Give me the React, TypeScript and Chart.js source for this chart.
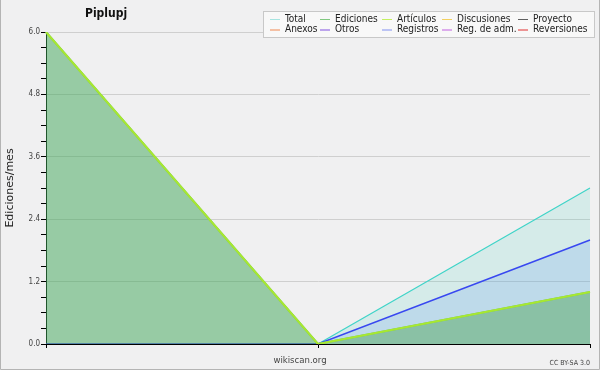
import React, { useEffect, useRef } from "react";
import { Chart, registerables } from "chart.js";

Chart.register(...registerables);

const TITLE = "Piplupj";
const Y_TITLE = "Ediciones/mes";
const X_TITLE = "wikiscan.org";
const CREDIT = "CC BY-SA 3.0";

const LABELS = ["", "", ""];
const TOTAL = [6, 0, 3];
const EDICIONES = [6, 0, 1];
const ARTICULOS = [6, 0, 1];
const REGISTROS = [0, 0, 2];

const Y_MIN = 0;
const Y_MAX = 6;
const Y_STEP = 0.3;
const Y_LABEL_STEP = 1.2;

const LEGEND_ROW1 = ["Total", "Ediciones", "Artículos", "Discusiones", "Proyecto"];
const LEGEND_ROW1_COLORS = ["#a6e4e0", "#80c880", "#c4f060", "#f2d060", "#606060"];
const LEGEND_ROW2 = ["Anexos", "Otros", "Registros", "Reg. de adm.", "Reversiones"];
const LEGEND_ROW2_COLORS = ["#f08850", "#8050e0", "#8090f0", "#c060e0", "#e03030"];

const FONT = "'DejaVu Sans', sans-serif";
const FONT_C = "'DejaVu Sans Condensed', 'DejaVu Sans', sans-serif";

const isMajor = (v: number) => Math.abs(v / Y_LABEL_STEP - Math.round(v / Y_LABEL_STEP)) < 1e-6;

const decor = {
  id: "decor",
  beforeDraw(chart: any) {
    const ctx = chart.ctx;
    ctx.save();
    ctx.fillStyle = "#f0f0f1";
    ctx.fillRect(0, 0, chart.width, chart.height);
    ctx.restore();
  },
  afterDraw(chart: any) {
    const ctx = chart.ctx;
    const area = chart.chartArea;
    ctx.save();
    // title
    ctx.fillStyle = "#111";
    ctx.font = `bold 12px ${FONT_C}`;
    ctx.textBaseline = "middle";
    ctx.textAlign = "left";
    ctx.fillText(TITLE, 85, 14);
    // y title
    ctx.save();
    ctx.translate(10, (area.top + area.bottom) / 2);
    ctx.rotate(-Math.PI / 2);
    ctx.textAlign = "center";
    ctx.font = `11px ${FONT}`;
    ctx.fillStyle = "#222";
    ctx.fillText(Y_TITLE, 0, 0);
    ctx.restore();
    // x title
    ctx.textAlign = "center";
    ctx.font = `9.5px ${FONT_C}`;
    ctx.fillStyle = "#444";
    ctx.fillText(X_TITLE, 300, 361);
    // credit
    ctx.textAlign = "right";
    ctx.font = `7px ${FONT_C}`;
    ctx.fillStyle = "#444";
    ctx.fillText(CREDIT, 590, 363);
    // legend
    ctx.fillStyle = "#f8f8f8";
    ctx.fillRect(263.5, 11.5, 331, 26);
    ctx.strokeStyle = "#c8c8c8";
    ctx.lineWidth = 1;
    ctx.strokeRect(263.5, 11.5, 331, 26);
    const colX = [270, 320, 382, 442, 518];
    const rows = [
      { labels: LEGEND_ROW1, colors: LEGEND_ROW1_COLORS, y: 19 },
      { labels: LEGEND_ROW2, colors: LEGEND_ROW2_COLORS, y: 29.5 },
    ];
    ctx.font = `10px ${FONT_C}`;
    ctx.textAlign = "left";
    rows.forEach((r) => {
      r.labels.forEach((lab, i) => {
        const x = colX[i];
        ctx.strokeStyle = r.colors[i];
        ctx.lineWidth = 1;
        ctx.beginPath();
        ctx.moveTo(x, r.y + 0.5);
        ctx.lineTo(x + 10, r.y + 0.5);
        ctx.stroke();
        ctx.fillStyle = "#222";
        ctx.fillText(lab, x + 15, r.y);
      });
    });
    // outer border
    ctx.strokeStyle = "#b4b4b4";
    ctx.lineWidth = 1;
    ctx.beginPath();
    ctx.moveTo(0.5, 0);
    ctx.lineTo(0.5, chart.height - 0.5);
    ctx.lineTo(chart.width - 0.5, chart.height - 0.5);
    ctx.lineTo(chart.width - 0.5, 0);
    ctx.stroke();
    ctx.restore();
  },
};

export default function App() {
  const ref = useRef<HTMLCanvasElement | null>(null);
  useEffect(() => {
    if (!ref.current) return;
    const chart = new Chart(ref.current, {
      type: "line",
      data: {
        labels: LABELS,
        datasets: [
          {
            label: "Artículos",
            data: ARTICULOS,
            borderColor: "#a8e830",
            borderWidth: 2,
            fill: false,
            pointRadius: 0,
          },
          {
            label: "Ediciones",
            data: EDICIONES,
            borderColor: "#70c070",
            backgroundColor: "rgba(66,160,70,0.42)",
            borderWidth: 2,
            fill: "origin",
            pointRadius: 0,
          },
          {
            label: "Registros",
            data: REGISTROS,
            borderColor: "#3848f0",
            backgroundColor: "rgba(100,150,240,0.2)",
            borderWidth: 1.5,
            fill: "origin",
            pointRadius: 0,
          },
          {
            label: "Total",
            data: TOTAL,
            borderColor: "#40d4c8",
            backgroundColor: "rgba(60,210,190,0.15)",
            borderWidth: 1.2,
            fill: "origin",
            pointRadius: 0,
          },
        ],
      },
      options: {
        responsive: false,
        animation: false,
        layout: { padding: { left: 0, top: 32, right: 10, bottom: 0 } },
        plugins: { legend: { display: false }, title: { display: false }, tooltip: { enabled: false } },
        elements: { line: { tension: 0 } },
        scales: {
          x: {
            type: "category",
            offset: false,
            grid: { drawOnChartArea: false, drawTicks: true, tickLength: 4, tickColor: "#000" },
            border: { display: true, color: "#000", width: 1 },
            ticks: { display: true, font: { size: 1 }, color: "rgba(0,0,0,0)" },
            afterFit: (s: any) => {
              s.height = 26;
            },
          } as any,
          y: {
            min: Y_MIN,
            max: Y_MAX,
            grid: {
              color: (c: any) => (c.tick && isMajor(c.tick.value) && c.tick.value > 0 ? "#cfcfcf" : "rgba(0,0,0,0)"),
              tickColor: "#000",
              tickLength: 5,
              drawTicks: true,
            },
            border: { display: true, color: "#000", width: 1 },
            ticks: {
              stepSize: Y_STEP,
              maxTicksLimit: 100,
              autoSkip: false,
              padding: 1,
              color: "#444",
              font: { family: FONT_C, size: 8 },
              callback: (v: any) => (isMajor(Number(v)) ? Number(v).toFixed(1) : ""),
            },
            afterFit: (s: any) => {
              s.width = 46;
            },
          } as any,
        },
      },
      plugins: [decor],
    });
    return () => chart.destroy();
  }, []);
  return (
    <div style={{ position: "fixed", left: 0, top: 0, width: 600, height: 370 }}>
      <canvas ref={ref} width={600} height={370} style={{ display: "block" }} />
    </div>
  );
}
